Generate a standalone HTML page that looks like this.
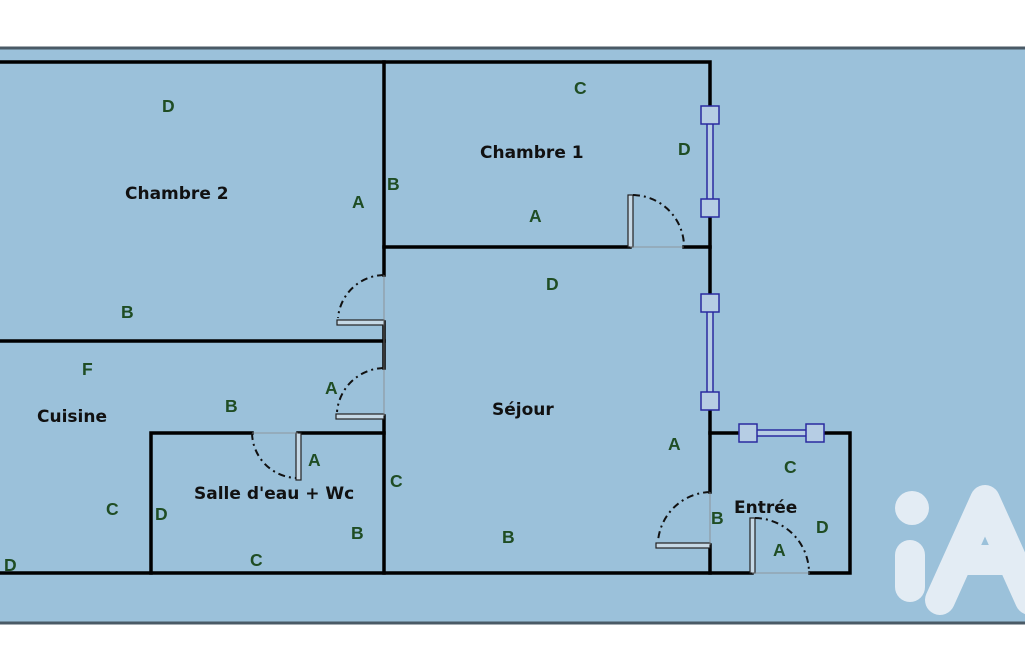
<!DOCTYPE html>
<html><head><meta charset="utf-8"><style>
html,body{margin:0;padding:0;background:#fff;width:1025px;height:650px;overflow:hidden}
svg{display:block}
text{font-family:"Liberation Sans",sans-serif;font-weight:bold}
.l{fill:#1f4d24;font-size:17.5px}
.n{fill:#111;font-size:17px;font-family:"DejaVu Sans",sans-serif}
</style></head><body>
<svg width="1025" height="650" viewBox="0 0 1025 650">
<rect x="0" y="47" width="1025" height="577" fill="#9bc1da"/>
<line x1="0" y1="48" x2="1025" y2="48" stroke="#4a5a66" stroke-width="3"/>
<line x1="0" y1="623" x2="1025" y2="623" stroke="#4a5a66" stroke-width="3"/>
<g stroke="#000" stroke-width="3.5" fill="none" stroke-linecap="square">
<path d="M0 62H710V115"/>
<path d="M710 208V303"/>
<path d="M710 401V492"/>
<path d="M710 545V573"/>
<path d="M384 62V275"/>
<path d="M384 322V368"/>
<path d="M384 416V573"/>
<path d="M0 341H384"/>
<path d="M384 247H630"/>
<path d="M684 247H710"/>
<path d="M0 573H752"/>
<path d="M810 573H850V433H815"/>
<path d="M748 433H710"/>
<path d="M151 573V433H252"/>
<path d="M298 433H384"/>
</g>
<g stroke="#222" stroke-width="1.2" fill="#c6d9e6">
<rect x="337" y="320" width="47" height="5"/>
<rect x="336" y="414" width="48" height="5"/>
<rect x="296" y="433" width="5" height="47"/>
<rect x="628" y="195" width="5" height="52"/>
<rect x="656" y="543" width="54" height="5"/>
<rect x="750" y="518" width="5" height="55"/>
</g>
<g stroke="#111" stroke-width="2" fill="none" stroke-dasharray="7 4 2 4">
<path d="M384 275A47 47 0 0 0 338 318"/>
<path d="M384 368A48 48 0 0 0 337 412"/>
<path d="M252 433A46 46 0 0 0 296 478"/>
<path d="M633 195A52 52 0 0 1 684 245"/>
<path d="M710 492A54 54 0 0 0 658 541"/>
<path d="M755 518A55 55 0 0 1 809 571"/>
</g>
<g stroke="#888" stroke-width="0.8">
<line x1="384" y1="275" x2="384" y2="416"/>
<line x1="630" y1="247" x2="684" y2="247"/>
<line x1="710" y1="492" x2="710" y2="545"/>
<line x1="752" y1="573" x2="810" y2="573"/>
<line x1="252" y1="433" x2="298" y2="433"/>
</g>
<g stroke="#2a2aa0" stroke-width="1.5" fill="#b6cde4">
<rect x="707" y="115" width="6" height="93"/>
<rect x="707" y="303" width="6" height="98"/>
<rect x="748" y="430" width="67" height="6"/>
<rect x="701" y="106" width="18" height="18"/>
<rect x="701" y="199" width="18" height="18"/>
<rect x="701" y="294" width="18" height="18"/>
<rect x="701" y="392" width="18" height="18"/>
<rect x="739" y="424" width="18" height="18"/>
<rect x="806" y="424" width="18" height="18"/>
</g>
<g fill="#e3ecf4">
<circle cx="912" cy="508" r="17"/>
<rect x="895" y="540" width="30" height="62" rx="15"/>
<path d="M940 600L985 500L1030 600" stroke="#e3ecf4" stroke-width="30" stroke-linecap="round" stroke-linejoin="round" fill="none"/>
<rect x="944" y="545" width="76" height="30" rx="15"/>
</g>
<text class="n" x="125" y="199">Chambre 2</text>
<text class="n" x="480" y="158">Chambre 1</text>
<text class="n" x="37" y="422">Cuisine</text>
<text class="n" x="492" y="415">Séjour</text>
<text class="n" x="194" y="499">Salle d'eau + Wc</text>
<text class="n" x="734" y="513">Entrée</text>
<g class="l">
<text class="l" x="162" y="112">D</text>
<text class="l" x="352" y="208">A</text>
<text class="l" x="387" y="190">B</text>
<text class="l" x="121" y="318">B</text>
<text class="l" x="574" y="94">C</text>
<text class="l" x="678" y="155">D</text>
<text class="l" x="529" y="222">A</text>
<text class="l" x="546" y="290">D</text>
<text class="l" x="82" y="375">F</text>
<text class="l" x="225" y="412">B</text>
<text class="l" x="325" y="394">A</text>
<text class="l" x="308" y="466">A</text>
<text class="l" x="106" y="515">C</text>
<text class="l" x="155" y="520">D</text>
<text class="l" x="390" y="487">C</text>
<text class="l" x="351" y="539">B</text>
<text class="l" x="250" y="566">C</text>
<text class="l" x="4" y="571">D</text>
<text class="l" x="502" y="543">B</text>
<text class="l" x="668" y="450">A</text>
<text class="l" x="711" y="524">B</text>
<text class="l" x="784" y="473">C</text>
<text class="l" x="816" y="533">D</text>
<text class="l" x="773" y="556">A</text>
</g>
</svg>
</body></html>
